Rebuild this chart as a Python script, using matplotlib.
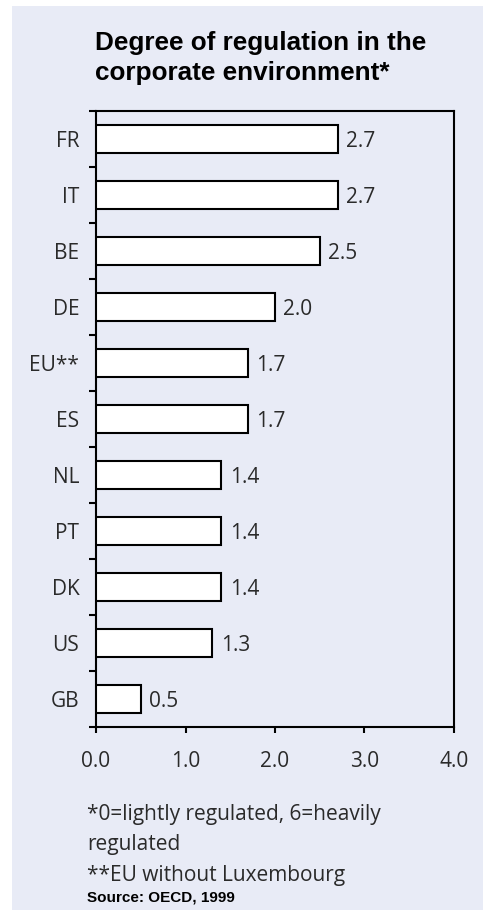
import matplotlib
matplotlib.use("Agg")
import matplotlib.pyplot as plt
from matplotlib.patches import Rectangle

categories = ["FR", "IT", "BE", "DE", "EU**", "ES", "NL", "PT", "DK", "US", "GB"]
values = [2.7, 2.7, 2.5, 2.0, 1.7, 1.7, 1.4, 1.4, 1.4, 1.3, 0.5]
value_labels = ["2.7", "2.7", "2.5", "2.0", "1.7", "1.7", "1.4", "1.4", "1.4", "1.3", "0.5"]
xticks = [0, 1, 2, 3, 4]
xtick_labels = ["0.0", "1.0", "2.0", "3.0", "4.0"]

BG = "#E8EBF6"
TXT = "#2a2a2a"
FONT = ['Open Sans', 'DejaVu Sans']
plt.rcParams['font.family'] = FONT
FS = 15

fig = plt.figure(figsize=(4.83, 9.10), dpi=100)
fig.patch.set_facecolor(BG)
# white margins at top and left
fig.patches.append(Rectangle((0, 0), 12/483, 1, transform=fig.transFigure,
                             facecolor="white", edgecolor="none", zorder=-10))
fig.patches.append(Rectangle((0, 1 - 6/910), 1, 6/910, transform=fig.transFigure,
                             facecolor="white", edgecolor="none", zorder=-10))

ax = fig.add_axes([96/483, 183/910, (454-96)/483, (727-111)/910])
ax.set_facecolor(BG)
y = list(range(len(categories)))
ax.barh(y, values, height=0.5, color="white", edgecolor="black", linewidth=1.5, zorder=3)
for yi, v, lab in zip(y, values, value_labels):
    ax.annotate(lab, (v, yi), xytext=(6, 0), textcoords="offset points",
                va="center_baseline", ha="left", fontsize=FS, color=TXT)

ax.set_xlim(0, 4)
ax.set_ylim(len(categories) - 0.5, -0.5)
ax.set_yticks(y)
ax.set_yticklabels(categories)
ax.set_yticks([i - 0.5 for i in range(len(categories) + 1)], minor=True)
ax.tick_params(axis="y", which="major", length=0, pad=12, labelsize=FS, labelcolor=TXT)
ax.tick_params(axis="y", which="minor", length=5, width=1.5, direction="out")
ax.set_xticks(xticks)
ax.set_xticklabels(xtick_labels)
ax.tick_params(axis="x", which="major", length=4, width=1.5, direction="out", pad=13,
               labelsize=FS, labelcolor=TXT)
for s in ax.spines.values():
    s.set_linewidth(1.5)

title_font = ['Liberation Sans', 'DejaVu Sans']
fig.text(95/483, 1 - 50/910, "Degree of regulation in the",
         ha="left", va="baseline", fontsize=18.8, fontweight="bold", color="black",
         family=title_font)
fig.text(95/483, 1 - 80/910, "corporate environment*",
         ha="left", va="baseline", fontsize=18.8, fontweight="bold", color="black",
         family=title_font)

fig.text(87/483, 1 - 820/910, "*0=lightly regulated, 6=heavily", ha="left", va="baseline",
         fontsize=FS, color=TXT)
fig.text(87/483, 1 - 850/910, "regulated", ha="left", va="baseline",
         fontsize=FS, color=TXT)
fig.text(87/483, 1 - 881/910, "**EU without Luxembourg", ha="left", va="baseline",
         fontsize=FS, color=TXT)
fig.text(87/483, 1 - 902/910, "Source: OECD, 1999", ha="left", va="baseline",
         fontsize=11, color="black", family=['Liberation Sans Narrow', 'Liberation Sans', 'DejaVu Sans'],
         fontweight="bold")

fig.savefig("out.png", dpi=100, facecolor=fig.get_facecolor())
